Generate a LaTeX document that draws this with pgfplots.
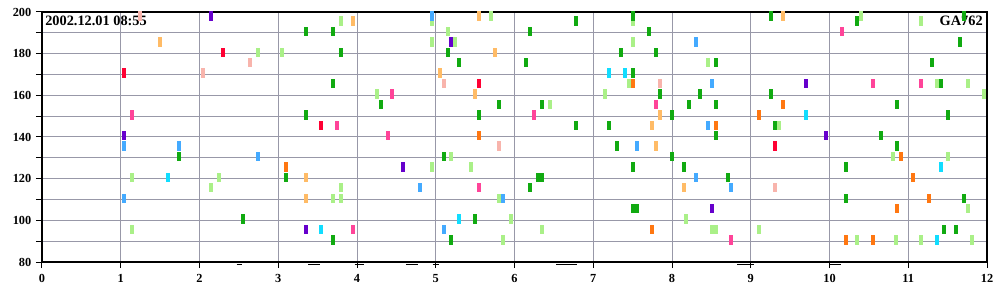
\documentclass[border=0pt]{standalone}
\usepackage{fontspec}
\setmainfont{Liberation Serif}
\usepackage{pgfplots}
\pgfplotsset{compat=1.18}
\definecolor{cG}{HTML}{11AA11}
\definecolor{cLG}{HTML}{AAF088}
\definecolor{cLO}{HTML}{FFBB66}
\definecolor{cO}{HTML}{FF7711}
\definecolor{cR}{HTML}{FF0033}
\definecolor{cP}{HTML}{FF4499}
\definecolor{cS}{HTML}{F8B4AC}
\definecolor{cU}{HTML}{6600CC}
\definecolor{cB}{HTML}{44AAFF}
\definecolor{cC}{HTML}{11DDFF}
\definecolor{gridc}{HTML}{9898A8}
\pgfdeclareplotmark{vbar}{\pgfpathrectangle{\pgfpoint{-1.5pt}{-2.55pt}}{\pgfpoint{3pt}{7.05pt}}\pgfusepath{fill}}
\pgfplotsset{bs/.style={only marks, mark=vbar, color=#1, mark options={fill=#1, draw=none}}}
\begin{document}
\begin{tikzpicture}
\begin{axis}[
 name=main,
 scale only axis, width=708.75pt, height=187.5pt,
 xmin=0, xmax=12, ymin=80, ymax=200,
 xtick={0,1,...,12}, ytick={80,100,...,200}, minor ytick={90,110,...,190},
 grid=both, grid style={draw=gridc, line width=0.75pt}, minor grid style={draw=gridc, line width=0.75pt},
 tick align=outside, xtick pos=bottom, ytick pos=left,
 major tick length=4.5pt, minor tick length=4.5pt,
 tick style={black, line width=0.75pt},
 axis line style={black, line width=1pt},
 ticklabel style={font=\fontsize{9.25}{10}\selectfont\bfseries},
 xticklabel style={yshift=-1.5pt},
 /pgf/number format/assume math mode=true,
 clip=true,
]
% light green
\addplot[bs=cLG] coordinates {(3.05,180) (2.74,180) (3.80,195) (4.95,195) (5.70,197.5) (5.16,190) (4.95,185) (5.24,185) (4.25,160) (6.45,155) (7.50,195) (7.50,185) (7.45,165) (7.15,160) (10.40,197.5) (11.16,195) (8.46,175) (11.36,165) (11.76,165) (11.96,160) (9.36,145) (1.14,120) (2.25,120) (2.14,115) (3.80,115) (3.69,110) (3.80,110) (1.14,95) (5.19,130) (4.95,125) (5.45,125) (5.80,110) (5.95,100) (6.35,95) (5.85,90) (10.81,130) (11.51,130) (11.76,105) (8.18,100) (8.505,95) (8.555,95) (9.11,95) (10.35,90) (10.84,90) (11.16,90) (11.81,90)};
% light orange
\addplot[bs=cLO] coordinates {(1.50,185) (3.95,195) (5.55,197.5) (5.75,180) (5.05,170) (5.50,160) (7.85,150) (7.75,145) (9.41,197.5) (3.35,120) (3.35,110) (7.80,135) (8.15,115)};
% salmon
\addplot[bs=cS] coordinates {(1.24,197.5) (2.05,170) (2.64,175) (5.10,165) (7.85,165) (5.80,135) (9.31,115)};
% pink
\addplot[bs=cP] coordinates {(1.14,150) (3.74,145) (4.44,160) (6.25,150) (7.80,155) (4.39,140) (10.16,190) (10.55,165) (11.16,165) (5.55,115) (3.95,95) (8.75,90)};
% red
\addplot[bs=cR] coordinates {(1.04,170) (2.30,180) (3.54,145) (5.55,165) (9.31,135)};
% orange
\addplot[bs=cO] coordinates {(7.50,165) (5.55,140) (9.41,155) (9.11,150) (8.56,145) (3.10,125) (7.75,95) (10.91,130) (11.06,120) (11.26,110) (10.86,105) (10.21,90) (10.55,90)};
% purple
\addplot[bs=cU] coordinates {(2.14,197.5) (1.04,140) (5.19,185) (9.70,165) (9.96,140) (4.59,125) (3.35,95) (8.51,105)};
% cyan
\addplot[bs=cC] coordinates {(7.20,170) (7.40,170) (9.70,150) (1.60,120) (3.54,95) (5.30,100) (11.41,125) (11.36,90)};
% blue
\addplot[bs=cB] coordinates {(4.95,197.5) (8.31,185) (8.51,165) (8.46,145) (1.04,135) (1.74,135) (2.74,130) (1.04,110) (7.55,135) (4.80,115) (5.85,110) (5.10,95) (8.31,120) (8.75,115)};
% green
\addplot[bs=cG] coordinates {(3.35,190) (3.69,190) (3.69,165) (3.35,150) (3.80,180) (5.16,180) (5.30,175) (6.15,175) (4.30,155) (5.80,155) (6.35,155) (5.55,150) (6.20,190) (6.78,195) (7.50,197.5) (7.71,190) (7.35,180) (7.80,180) (7.50,170) (7.85,160) (6.78,145) (7.20,145) (9.26,197.5) (10.35,195) (11.71,197.5) (11.66,185) (8.56,175) (11.30,175) (11.41,165) (8.36,160) (9.26,160) (8.21,155) (8.56,155) (10.86,155) (8.00,150) (11.51,150) (9.31,145) (8.56,140) (10.65,140) (1.74,130) (3.10,120) (2.55,100) (3.69,90) (7.30,135) (5.10,130) (7.50,125) (6.295,120) (6.345,120) (6.20,115) (7.505,105) (7.555,105) (5.50,100) (5.19,90) (10.86,135) (8.00,130) (8.15,125) (10.21,125) (8.71,120) (10.21,110) (11.71,110) (11.46,95) (11.61,95)};
\node[anchor=north west, inner sep=0pt, xshift=2.25pt, yshift=-2.6pt, font=\fontsize{10.75}{12}\selectfont\bfseries] at (rel axis cs:0,1) {2002.12.01 08:55};
\node[anchor=north east, inner sep=0pt, xshift=-3pt, yshift=-2.6pt, font=\fontsize{10.75}{12}\selectfont\bfseries] at (rel axis cs:1,1) {GA762};
\end{axis}
\begin{axis}[
 scale only axis, width=708.75pt, height=187.5pt,
 xmin=0, xmax=12, ymin=80, ymax=200,
 axis lines=none, clip=false,
]
\addplot[black, line width=0.75pt] coordinates {(2.47,78.6) (2.54,78.6)};
\addplot[black, line width=0.75pt] coordinates {(3.38,78.6) (3.53,78.6)};
\addplot[black, line width=0.75pt] coordinates {(3.97,78.6) (4.09,78.6)};
\addplot[black, line width=0.75pt] coordinates {(4.62,78.6) (4.77,78.6)};
\addplot[black, line width=0.75pt] coordinates {(4.96,78.6) (5.04,78.6)};
\addplot[black, line width=0.75pt] coordinates {(6.53,78.6) (6.79,78.6)};
\addplot[black, line width=0.75pt] coordinates {(8.83,78.6) (9.04,78.6)};
\addplot[black, line width=0.75pt] coordinates {(10.01,78.6) (10.15,78.6)};
\end{axis}
\pgfresetboundingbox
\useasboundingbox ([shift={(-31.5pt,-28.5pt)}]main.south west) rectangle ([shift={(9.75pt,9pt)}]main.north east);
\end{tikzpicture}
\end{document}
